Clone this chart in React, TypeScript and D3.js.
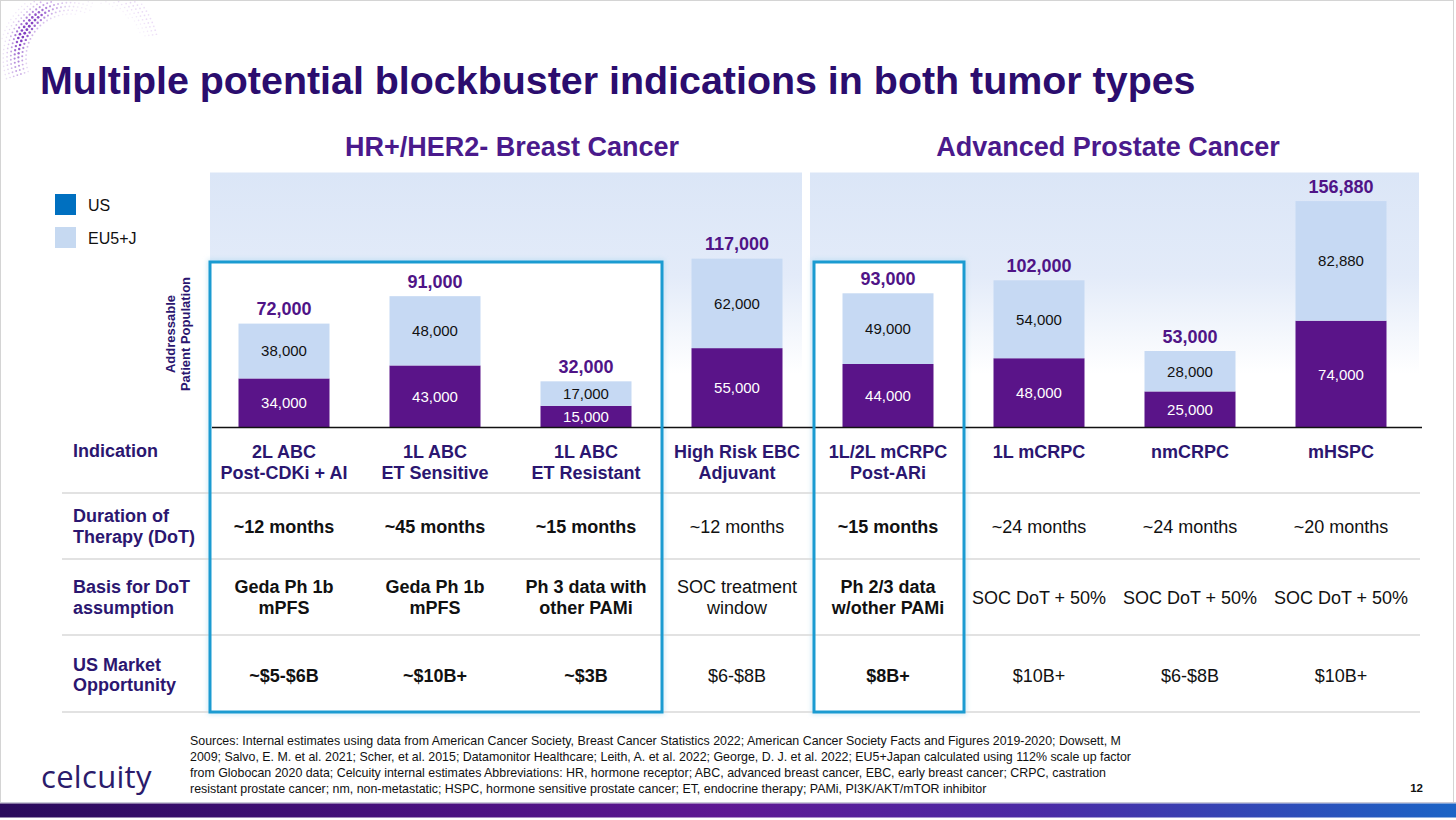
import React from "react";
import * as d3 from "d3";

const indicationLines: string[][] = [
  ["2L ABC", "Post-CDKi + AI"],
  ["1L ABC", "ET Sensitive"],
  ["1L ABC", "ET Resistant"],
  ["High Risk EBC", "Adjuvant"],
  ["1L/2L mCRPC", "Post-ARi"],
  ["1L mCRPC"],
  ["nmCRPC"],
  ["mHSPC"],
];
const usValues = [34000, 43000, 15000, 55000, 44000, 48000, 25000, 74000];
const euValues = [38000, 48000, 17000, 62000, 49000, 54000, 28000, 82880];
const totals = [72000, 91000, 32000, 117000, 93000, 102000, 53000, 156880];
const durations = ["~12 months", "~45 months", "~15 months", "~12 months", "~15 months", "~24 months", "~24 months", "~20 months"];
const basisLines: string[][] = [
  ["Geda Ph 1b", "mPFS"],
  ["Geda Ph 1b", "mPFS"],
  ["Ph 3 data with", "other PAMi"],
  ["SOC treatment", "window"],
  ["Ph 2/3 data", "w/other PAMi"],
  ["SOC DoT + 50%"],
  ["SOC DoT + 50%"],
  ["SOC DoT + 50%"],
];
const marketValues = ["~$5-$6B", "~$10B+", "~$3B", "$6-$8B", "$8B+", "$10B+", "$6-$8B", "$10B+"];
const highlighted = [true, true, true, false, true, false, false, false];
const groups = [
  { name: "HR+/HER2- Breast Cancer", first: 0, last: 3 },
  { name: "Advanced Prostate Cancer", first: 4, last: 7 },
];
const boxes = [
  { first: 0, last: 2 },
  { first: 4, last: 4 },
];
const seriesKeys = ["US", "EU5+J"];
const rowLabels: string[][] = [
  ["Indication"],
  ["Duration of", "Therapy (DoT)"],
  ["Basis for DoT", "assumption"],
  ["US Market", "Opportunity"],
];
const sourceLines = [
  "Sources: Internal estimates using data from American Cancer Society, Breast Cancer Statistics 2022; American Cancer Society Facts and Figures 2019-2020; Dowsett, M",
  "2009; Salvo, E. M. et al. 2021; Scher, et al. 2015; Datamonitor Healthcare; Leith, A. et al. 2022; George, D. J. et al. 2022; EU5+Japan calculated using 112% scale up factor",
  "from Globocan 2020 data; Celcuity internal estimates Abbreviations: HR, hormone receptor; ABC, advanced breast cancer, EBC, early breast cancer; CRPC, castration",
  "resistant prostate cancer; nm, non-metastatic; HSPC, hormone sensitive prostate cancer; ET, endocrine therapy; PAMi, PI3K/AKT/mTOR inhibitor",
];

const F = "'Liberation Sans', Arial, Helvetica, sans-serif";
const DARK = "#2b1670";
const TITLE = "#2b0d6e";
const HEAD = "#4a1a8c";
const TOTAL = "#4f1487";
const US_BAR = "#5a1489";
const EU_BAR = "#c6d9f3";
const BOX = "#1b9bd1";

export default function App() {
  const W = 1456;
  const H = 820;
  const base = 427.5;
  const idx = d3.range(indicationLines.length);
  const x = d3.scalePoint<number>().domain(idx).range([284, 1341]);
  const y = d3.scaleLinear().domain([0, 160000]).range([base, base - 230.9]);
  const barW = 91;

  const rows = idx.map((i) => ({ US: usValues[i], "EU5+J": euValues[i] }));
  const stacked = d3.stack<any>().keys(seriesKeys)(rows);
  const colors = d3.scaleOrdinal<string, string>().domain(seriesKeys).range([US_BAR, EU_BAR]);
  const textColors = d3.scaleOrdinal<string, string>().domain(seriesKeys).range(["#ffffff", "#111111"]);

  const fmt = d3.format(",");

  const rowLines = [430, 493, 559, 635, 712];
  const rowCenter = (r: number) => (rowLines[r] + rowLines[r + 1]) / 2;
  const lh = 21.5;

  // decorative dotted swirl (top-left)
  const dots: { cx: number; cy: number; r: number; o: number; c: string }[] = [];
  const cxD = 70, cyD = 58;
  for (let rr = 44; rr <= 92; rr += 3.8) {
    const step = 4.2 / rr;
    for (let a = (162 * Math.PI) / 180; a <= (345 * Math.PI) / 180; a += step) {
      const px = cxD + rr * Math.cos(a);
      const py = cyD + rr * Math.sin(a);
      if (py < 1.5 || px < 1.5) continue;
      const deg = (a * 180) / Math.PI;
      const inner = Math.exp(-Math.pow((rr - 52) / 8, 2)) * Math.exp(-Math.pow((deg - 215) / 45, 2));
      const outerBand = 58 + Math.max(0, deg - 230) * 0.28;
      const outer = Math.exp(-Math.pow((rr - outerBand) / 10, 2)) * (deg > 200 ? 0.55 : 0.3);
      const o = Math.min(1, 0.08 + 0.9 * inner + 0.6 * outer);
      if (o < 0.12) continue;
      const t = Math.min(1, Math.max(0, (deg - 165) / 180));
      const c = d3.interpolateRgb("#6f22b8", "#d2b0ec")(Math.min(1, t * 0.7 + (1 - inner) * 0.3));
      dots.push({ cx: px, cy: py, r: 0.75 + 0.6 * inner + 0.2 * outer, o, c });
    }
  }

  return (
    <div style={{ position: "absolute", left: 0, top: 0, width: W, height: H, background: "#fff" }}>
      <svg width={W} height={H} viewBox={`0 0 ${W} ${H}`} style={{ display: "block", fontFamily: F }}>
        <defs>
          <linearGradient id="panelGrad" x1="0" y1="0" x2="0" y2="1">
            <stop offset="0" stopColor="#dbe6f7" />
            <stop offset="0.4" stopColor="#e3ebf9" />
            <stop offset="0.78" stopColor="#ffffff" />
            <stop offset="1" stopColor="#ffffff" />
          </linearGradient>
          <linearGradient id="footGrad" x1="0" y1="0" x2="1" y2="0">
            <stop offset="0" stopColor="#2a0b5c" />
            <stop offset="0.3" stopColor="#4a1180" />
            <stop offset="0.5" stopColor="#5e1893" />
            <stop offset="0.72" stopColor="#4a2ba6" />
            <stop offset="1" stopColor="#1b64c6" />
          </linearGradient>
          <filter id="boxShadow" x="-5%" y="-5%" width="110%" height="110%">
            <feGaussianBlur stdDeviation="2.5" />
          </filter>
        </defs>

        <rect x={0} y={0} width={W} height={H} fill="#ffffff" />

        <g>
          {dots.map((d, i) => (
            <circle key={i} cx={d.cx} cy={d.cy} r={d.r} fill={d.c} opacity={d.o} />
          ))}
        </g>

        <text x={40} y={94} fontSize={39.4} fontWeight="bold" fill={TITLE}>
          Multiple potential blockbuster indications in both tumor types
        </text>

        {groups.map((g, gi) => {
          const x0 = (x(g.first) as number) - (gi === 0 ? 74 : 78);
          const x1 = (x(g.last) as number) + (gi === 0 ? 65 : 78);
          return (
            <g key={g.name}>
              <rect x={x0} y={172.5} width={x1 - x0} height={base - 172.5 + 3} fill="url(#panelGrad)" />
              <text x={gi === 0 ? 512 : 1108} y={156} textAnchor="middle" fontSize={27} fontWeight="bold" fill={HEAD}>
                {g.name}
              </text>
            </g>
          );
        })}

        {boxes.map((b, i) => {
          const x0 = (x(b.first) as number) - 74;
          const x1 = (x(b.last) as number) + 76;
          return (
            <g key={"bf" + i}>
              <rect x={x0} y={262} width={x1 - x0} height={712 - 262} fill="none" stroke="#9fd3ee" strokeWidth={5} opacity={0.5} filter="url(#boxShadow)" />
              <rect x={x0} y={262} width={x1 - x0} height={712 - 262} fill="#ffffff" />
            </g>
          );
        })}

        <g>
          {seriesKeys.map((k, i) => (
            <g key={k}>
              <rect x={55} y={194 + i * 33} width={21} height={21} fill={i === 0 ? "#0070c0" : "#c6d9f1"} />
              <text x={88} y={210.5 + i * 33} fontSize={16} fill="#111">
                {k}
              </text>
            </g>
          ))}
        </g>

        <g transform="translate(0,334)" fontSize={13} fontWeight="bold" fill={DARK} textAnchor="middle">
          <text transform="translate(175,0) rotate(-90)">Addressable</text>
          <text transform="translate(190,0) rotate(-90)">Patient Population</text>
        </g>

        {stacked.map((s) => (
          <g key={s.key}>
            {s.map((d, i) => {
              const y0 = y(d[0]);
              const y1 = y(d[1]);
              const cx = x(i) as number;
              return (
                <g key={i}>
                  <rect x={cx - barW / 2} y={y1} width={barW} height={y0 - y1} fill={colors(s.key)} />
                  <text x={cx} y={(y0 + y1) / 2 + 5.4} textAnchor="middle" fontSize={15} fill={textColors(s.key)}>
                    {fmt(d[1] - d[0])}
                  </text>
                </g>
              );
            })}
          </g>
        ))}

        {idx.map((i) => (
          <text key={"t" + i} x={x(i) as number} y={y(totals[i]) - 8.5} textAnchor="middle" fontSize={18} fontWeight="bold" fill={TOTAL}>
            {fmt(totals[i])}
          </text>
        ))}

        <line x1={212} x2={1422} y1={base} y2={base} stroke="#111" strokeWidth={1.5} />

        {rowLines.slice(1).map((ly, i) => (
          <line key={"rl" + i} x1={62} x2={1420} y1={ly} y2={ly} stroke="#d9d9d9" strokeWidth={1.5} />
        ))}

        {rowLabels.map((lines, r) => {
          const gap = r === 3 ? 20 : lh;
          const c = r === 0 ? 451 : rowCenter(r) + (r === 3 ? 1 : 0);
          const start = r === 0 ? c : c - ((lines.length - 1) * gap) / 2;
          return (
            <text key={"lab" + r} fontSize={18} fontWeight="bold" fill={DARK}>
              {lines.map((ln, k) => (
                <tspan key={k} x={73} y={start + k * gap + 6.3}>
                  {ln}
                </tspan>
              ))}
            </text>
          );
        })}

        {idx.map((i) => (
          <text key={"ind" + i} textAnchor="middle" fontSize={18} fontWeight="bold" fill={DARK}>
            {indicationLines[i].map((ln, k) => (
              <tspan key={k} x={x(i) as number} y={451 + k * lh + 6.5}>
                {ln}
              </tspan>
            ))}
          </text>
        ))}

        {idx.map((i) => (
          <text key={"dur" + i} x={x(i) as number} y={rowCenter(1) + 7} textAnchor="middle" fontSize={18} fontWeight={highlighted[i] ? "bold" : "normal"} fill="#111">
            {durations[i]}
          </text>
        ))}

        {idx.map((i) => {
          const lines = basisLines[i];
          const start = rowCenter(2) - ((lines.length - 1) * lh) / 2;
          return (
            <text key={"bas" + i} textAnchor="middle" fontSize={18} fontWeight={highlighted[i] ? "bold" : "normal"} fill="#111">
              {lines.map((ln, k) => (
                <tspan key={k} x={x(i) as number} y={start + k * lh + 6.5}>
                  {ln}
                </tspan>
              ))}
            </text>
          );
        })}

        {idx.map((i) => (
          <text key={"mk" + i} x={x(i) as number} y={rowCenter(3) + 8} textAnchor="middle" fontSize={18} fontWeight={highlighted[i] ? "bold" : "normal"} fill="#111">
            {marketValues[i]}
          </text>
        ))}

        {boxes.map((b, i) => {
          const x0 = (x(b.first) as number) - 74;
          const x1 = (x(b.last) as number) + 76;
          return <rect key={"bs" + i} x={x0} y={262} width={x1 - x0} height={712 - 262} fill="none" stroke={BOX} strokeWidth={3} />;
        })}

        <text fontSize={12.4} fill="#111">
          {sourceLines.map((ln, k) => (
            <tspan key={k} x={190} y={744.5 + k * 16}>
              {ln}
            </tspan>
          ))}
        </text>

        <text x={41} y={788} fontSize={31} fill="#2b1b6b" style={{ fontFamily: "'Open Sans', 'Noto Sans', sans-serif" }} letterSpacing={0.3}>
          celcuity
        </text>

        <text x={1423} y={792} textAnchor="end" fontSize={11.5} fontWeight="bold" fill="#111">
          12
        </text>

        <rect x={0.5} y={0.5} width={1453} height={802} fill="none" stroke="#d4d4d4" strokeWidth={1} />

        <rect x={0} y={802} width={W} height={1.5} fill="#c9c9d6" />
        <rect x={0} y={803.5} width={W} height={14} fill="url(#footGrad)" />
      </svg>
    </div>
  );
}
